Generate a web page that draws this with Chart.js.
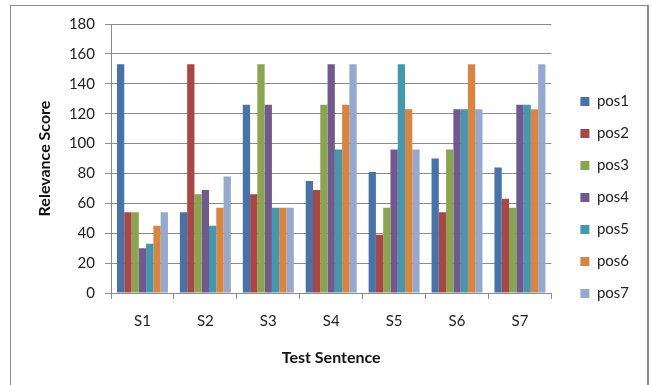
<!DOCTYPE html>
<html>
<head>
<meta charset="utf-8">
<script src="https://cdn.jsdelivr.net/npm/chart.js@4.4.1/dist/chart.umd.min.js"></script>
<style>
    body { margin: 0; background: #fff; }
    #wrap { position: relative; width: 651px; height: 385px; overflow: hidden; }
    #frame { position: absolute; left: 10px; top: 5px; width: 636px; height: 400px; border: 1px solid #8a8a8a; border-right-width: 2px; }
    #myChart { position: absolute; left: 0; top: 0; }
</style>
</head>
<body>
<div id="wrap">
    <div id="frame"></div>
    <canvas id="myChart" width="651" height="385"></canvas>
</div>
<script>
const sentences = ["S1", "S2", "S3", "S4", "S5", "S6", "S7"];
const seriesNames = ["pos1", "pos2", "pos3", "pos4", "pos5", "pos6", "pos7"];

const pos1 = [153, 54, 126, 75, 81, 90, 84];
const pos2 = [54, 153, 66, 69, 39, 54, 63];
const pos3 = [54, 66, 153, 126, 57, 96, 57];
const pos4 = [30, 69, 126, 153, 96, 123, 126];
const pos5 = [33, 45, 57, 96, 153, 123, 126];
const pos6 = [45, 57, 57, 126, 123, 153, 123];
const pos7 = [54, 78, 57, 153, 96, 123, 153];

const yTicks = { min: 0, max: 180, step: 20 };

const colors = ["#4673aa", "#aa4644", "#89a54e", "#71588f", "#4198af", "#db843d", "#93a9cf"];
const values = [pos1, pos2, pos3, pos4, pos5, pos6, pos7];

const font = "Lato";
const gridColor = "#8c8c8c";

let datasets = values.map((v, i) => ({
    label: seriesNames[i],
    data: v,
    backgroundColor: colors[i],
    borderWidth: 0,
    categoryPercentage: 0.81,
    barPercentage: 1.0
}));

let config = {
    type: "bar",
    data: {
        labels: sentences,
        datasets: datasets
    },
    options: {
        responsive: false,
        animation: false,
        layout: {
            padding: { left: 33, top: 24, bottom: 14, right: 12 }
        },
        plugins: {
            legend: {
                position: "right",
                align: "center",
                labels: {
                    boxWidth: 9,
                    boxHeight: 9,
                    padding: 17,
                    color: "#222",
                    font: { family: font, size: 15 }
                }
            },
            tooltip: { enabled: false }
        },
        scales: {
            x: {
                grid: {
                    offset: true,
                    drawOnChartArea: false,
                    color: gridColor,
                    tickLength: 6
                },
                border: { color: gridColor },
                ticks: {
                    color: "#222",
                    padding: 13,
                    font: { family: font, size: 15 }
                },
                title: {
                    display: true,
                    text: "Test Sentence",
                    color: "#111",
                    font: { family: font, size: 16, weight: "bold" },
                    padding: { bottom: 4 }
                },
                afterFit: s => { s.height = 78; }
            },
            y: {
                min: yTicks.min,
                max: yTicks.max,
                grid: {
                    color: gridColor,
                    tickLength: 6
                },
                border: { color: gridColor },
                ticks: {
                    stepSize: yTicks.step,
                    color: "#222",
                    padding: 10,
                    font: { family: font, size: 15 }
                },
                title: {
                    display: true,
                    text: "Relevance Score",
                    color: "#111",
                    font: { family: font, size: 16, weight: "bold" },
                    padding: { top: 2 }
                },
                afterFit: s => { s.width = 78; }
            },
            // empty axis, only keeps a gap between plot and legend
            gap: {
                type: "linear",
                position: "right",
                display: true,
                grid: { display: false },
                border: { display: false },
                ticks: { display: false },
                afterFit: s => { s.width = 12; }
            }
        }
    }
};

let ctx = document.getElementById("myChart").getContext("2d");
let myChart = new Chart(ctx, config);
</script>
</body>
</html>
